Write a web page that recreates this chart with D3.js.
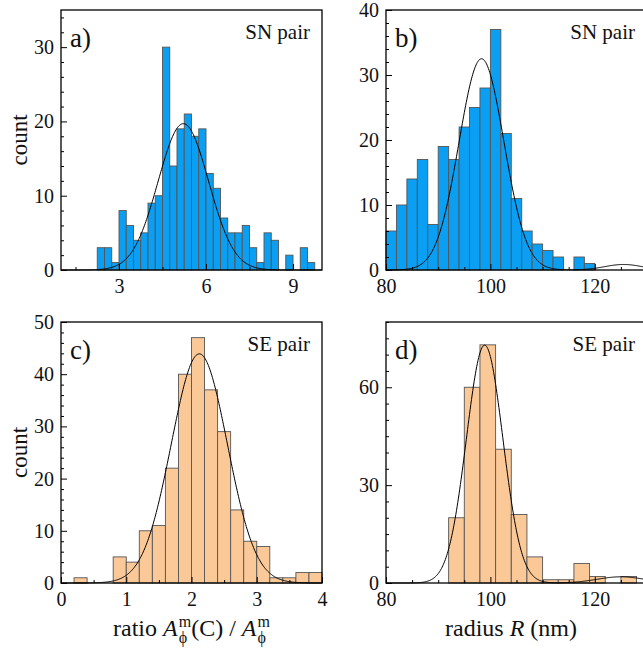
<!DOCTYPE html>
<html><head><meta charset="utf-8">
<script src="https://cdn.jsdelivr.net/npm/d3@7"></script>
<style>
body{margin:0;background:#fff}
text{font-family:"Liberation Serif","Times New Roman",serif;fill:#111}
</style>
</head><body><svg id="chart" width="643" height="650"></svg>
<script>
// ---------- data ----------
const aBinStart = 2.25, aBinWidth = 0.25;
const aCounts = [3,3,1,8,6,4,5,9,10,30,14,19,21,18,19,13,11,7,5,5,6,3,1,5,4,0,2,0,3,1];
const bBinStart = 80, bBinWidth = 2;
const bCounts = [6,10,14,17,7,19,17,22,25,28,37,21,11,6,4,3,2,0,2,1];
const cBinStart = 0.2, cBinWidth = 0.2;
const cCounts = [1,0,0,5,4,10,11,22,40,47,37,29,14,8,7,1,1,2,2];
const dBinStart = 92, dBinWidth = 3;
const dCounts = [20,60,73,41,21,8,1,1,6,2,0,2];

// Gaussian fit parameters: [centre, amplitude, sigma]
const aFit = [[5.22, 19.7, 0.87]];
const bFit = [[98.3, 32.5, 4.3], [125.5, 0.85, 3.6]];
const cFit = [[2.12, 43.9, 0.43]];
const dFit = [[98.9, 72.9, 3.5], [125, 1.9, 4.5]];

// axis ticks
const aXMajor = [3,6,9], aXMinor = [1.5,4.5,7.5];
const bXMajor = [80,100,120], bXMinor = [85,90,95,105,110,115,125];
const cXMajor = [0,1,2,3,4], cXMinor = [0.5,1.5,2.5,3.5];
const dXMajor = [80,100,120], dXMinor = [85,90,95,105,110,115,125];
const aYMajor = [0,10,20,30], aYMinor = [2,4,6,8,12,14,16,18,22,24,26,28,32,34];
const bYMajor = [0,10,20,30,40], bYMinor = [2,4,6,8,12,14,16,18,22,24,26,28,32,34,36,38];
const cYMajor = [0,10,20,30,40,50], cYMinor = [2,4,6,8,12,14,16,18,22,24,26,28,32,34,36,38,42,44,46,48];
const dYMajor = [0,30,60], dYMinor = [5,10,15,20,25,35,40,45,50,55,65,70,75,80];

const panelLabels = ["a)","b)","c)","d)"];
const pairLabels = ["SN pair","SN pair","SE pair","SE pair"];

const blue = "#0a9ff2", peach = "#fbc898";

const panels = [
  {x0:61, x1:322, y0:10, y1:270, xd:[1,10], yd:[0,35], start:aBinStart, w:aBinWidth, counts:aCounts, fit:aFit, xM:aXMajor, xm:aXMinor, yM:aYMajor, ym:aYMinor, fill:blue, lab:panelLabels[0], pair:pairLabels[0], ylabel:true},
  {x0:386, x1:647, y0:10, y1:270, xd:[80,130], yd:[0,40], start:bBinStart, w:bBinWidth, counts:bCounts, fit:bFit, xM:bXMajor, xm:bXMinor, yM:bYMajor, ym:bYMinor, fill:blue, lab:panelLabels[1], pair:pairLabels[1]},
  {x0:61, x1:322, y0:322, y1:583, xd:[0,4], yd:[0,50], start:cBinStart, w:cBinWidth, counts:cCounts, fit:cFit, xM:cXMajor, xm:cXMinor, yM:cYMajor, ym:cYMinor, fill:peach, lab:panelLabels[2], pair:pairLabels[2], ylabel:true},
  {x0:386, x1:647, y0:322, y1:583, xd:[80,130], yd:[0,80], start:dBinStart, w:dBinWidth, counts:dCounts, fit:dFit, xM:dXMajor, xm:dXMinor, yM:dYMajor, ym:dYMinor, fill:peach, lab:panelLabels[3], pair:pairLabels[3]}
];

const svg = d3.select("#chart");

panels.forEach(p => {
  const x = d3.scaleLinear().domain(p.xd).range([p.x0, p.x1]);
  const y = d3.scaleLinear().domain(p.yd).range([p.y1, p.y0]);
  const g = svg.append("g");

  // bars
  g.selectAll("rect.bar").data(p.counts.map((c,i)=>({x0:p.start+i*p.w, x1:p.start+(i+1)*p.w, c})).filter(d=>d.c>0))
    .join("rect").attr("class","bar")
    .attr("x", d=>x(d.x0)).attr("width", d=>x(d.x1)-x(d.x0))
    .attr("y", d=>y(d.c)).attr("height", d=>y(0)-y(d.c))
    .attr("fill", p.fill).attr("stroke","#555").attr("stroke-width",0.9);

  // fit curve
  const xs = d3.range(p.xd[0], p.xd[1], (p.xd[1]-p.xd[0])/400).concat([p.xd[1]]);
  const gauss = v => d3.sum(p.fit, f => f[1]*Math.exp(-((v-f[0])**2)/(2*f[2]*f[2])));
  g.append("path").datum(xs)
    .attr("d", d3.line().x(v=>x(v)).y(v=>y(gauss(v))))
    .attr("fill","none").attr("stroke","#000").attr("stroke-width",1);

  // axes (ticks pointing inwards)
  g.append("g").attr("transform",`translate(0,${p.y1})`)
    .call(d3.axisBottom(x).tickValues(p.xM).tickSize(-6).tickPadding(9).tickFormat(d3.format("d")));
  g.append("g").attr("transform",`translate(0,${p.y1})`)
    .call(d3.axisBottom(x).tickValues(p.xm).tickSize(-3).tickFormat(""));
  g.append("g").attr("transform",`translate(${p.x0},0)`)
    .call(d3.axisLeft(y).tickValues(p.yM).tickSize(-6).tickPadding(7).tickFormat(d3.format("d")));
  g.append("g").attr("transform",`translate(${p.x0},0)`)
    .call(d3.axisLeft(y).tickValues(p.ym).tickSize(-3).tickFormat(""));
  g.selectAll(".domain").remove();
  g.selectAll(".tick line").attr("stroke","#000").attr("stroke-width",1);
  g.selectAll(".tick text").attr("font-size",20).attr("font-family","Liberation Serif").attr("fill","#111");

  // frame
  g.append("rect").attr("x",p.x0).attr("y",p.y0).attr("width",p.x1-p.x0).attr("height",p.y1-p.y0)
    .attr("fill","none").attr("stroke","#000").attr("stroke-width",1.3);

  // labels
  g.append("text").attr("x",p.x0+9).attr("y",p.y0+37).attr("font-size",27).text(p.lab);
  g.append("text").attr("x",p.x1-12).attr("y",p.y0+29).attr("font-size",21).attr("text-anchor","end").text(p.pair);

  if (p.ylabel) {
    g.append("text").attr("transform",`translate(27,${(p.y0+p.y1)/2}) rotate(-90)`)
      .attr("text-anchor","middle").attr("font-size",23).text("count");
  }
});

// rich x-axis labels
function richLabel(parts, cx, baseline) {
  const g = svg.append("g");
  let cur = 0;
  parts.forEach(pt => {
    if (pt.t !== undefined) {
      const t = g.append("text").attr("x",cur).attr("y",baseline).attr("font-size",24)
        .attr("font-style", pt.it ? "italic" : "normal").style("white-space","pre").text(pt.t);
      cur += t.node().getComputedTextLength();
    } else {
      const s1 = g.append("text").attr("x",cur+1).attr("y",baseline-9).attr("font-size",16).text(pt.sup);
      const s2 = g.append("text").attr("x",cur+1).attr("y",baseline+7).attr("font-size",16).text(pt.sub);
      cur += Math.max(s1.node().getComputedTextLength(), s2.node().getComputedTextLength()) + 1;
    }
  });
  g.attr("transform",`translate(${cx-cur/2},0)`);
}
richLabel([{t:"ratio "},{t:"A",it:true},{sup:"m",sub:"ϕ"},{t:"(C) / "},{t:"A",it:true},{sup:"m",sub:"ϕ"}], 191.5, 636);
richLabel([{t:"radius "},{t:"R",it:true},{t:" (nm)"}], 511, 636);
</script>
</body></html>
